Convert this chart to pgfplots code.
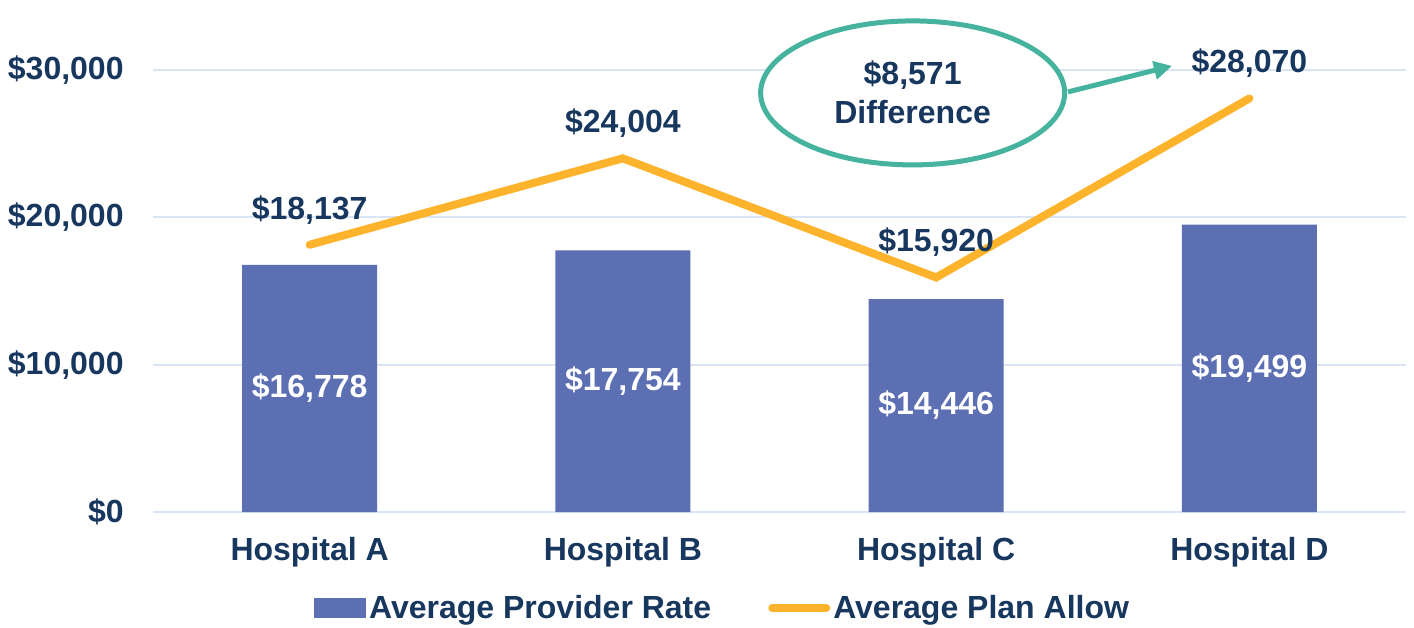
\documentclass[border=0pt]{standalone}
\usepackage{fontspec}
\setmainfont{Liberation Sans}
\usepackage{pgfplots}
\pgfplotsset{compat=1.18}
\usepackage{pgfplotstable}
\usetikzlibrary{arrows.meta}
\definecolor{barcol}{HTML}{5D6FB3}
\definecolor{linecol}{HTML}{FDB32B}
\definecolor{tealcol}{HTML}{45B39D}
\definecolor{gridcol}{HTML}{D9E5F5}
\definecolor{textcol}{HTML}{17375E}
\newcommand\lbl{\fontsize{16}{19.5}\selectfont\bfseries}
\pgfplotstableread{
x y
0 16778
1 17754
2 14446
3 19499
}\provider
\pgfplotstableread{
x y
0 18137
1 24004
2 15920
3 28070
}\planallow
\begin{document}
\begin{tikzpicture}
\useasboundingbox (-76.5pt,-57.5pt) rectangle (630.5pt,256pt);
\begin{axis}[
  at={(0pt,0pt)}, anchor=south west,
  scale only axis, width=626.5pt, height=221pt,
  xmin=-0.5, xmax=3.5, ymin=0, ymax=30000,
  scaled y ticks=false,
  clip=false,
  axis line style={draw=none},
  major tick length=0pt,
  tick style={draw=none},
  xtick={0,1,2,3},
  xticklabels={Hospital A,Hospital B,Hospital C,Hospital D},
  ytick={0,10000,20000,30000},
  yticklabels={{\$0},{\$10,000},{\$20,000},{\$30,000}},
  ymajorgrids,
  grid style={line width=1pt, gridcol},
  ticklabel style={font=\lbl, text=textcol, inner sep=0pt},
  yticklabel style={anchor=east, xshift=-14.5pt},
  xticklabel style={anchor=north, yshift=-12.5pt},
  /pgf/number format/assume math mode=true,
  /pgf/number format/.cd, fixed, precision=0, 1000 sep={,},
  /pgfplots/.cd,
  legend columns=2,
  legend style={draw=none, fill=none, font=\lbl, text=textcol,
    at={(0.455,-0.217)}, anchor=center,
    nodes={inner sep=1.5pt},
    /tikz/every even column/.append style={column sep=27pt}},
  legend cell align=left,
]
\addplot[ybar, bar shift=0pt, bar width=67.5pt, fill=barcol, draw=none,
  legend image code/.code={\fill[barcol] (0pt,-5pt) rectangle (26pt,5pt);}]
  table[x=x,y=y] {\provider};
\addlegendentry{Average Provider Rate}
\addplot[draw=none, mark=none, forget plot,
  nodes near coords={\$\pgfmathprintnumber{\pgfplotspointmeta}},
  point meta=explicit,
  every node near coord/.append style={anchor=center, text=white, font=\lbl}]
  table[x=x, y expr=\thisrow{y}/2, meta=y] {\provider};
\addplot[linecol, line width=4pt, line cap=round, mark=none,
  nodes near coords={\$\pgfmathprintnumber{\pgfplotspointmeta}},
  point meta=explicit,
  every node near coord/.append style={anchor=center, yshift=17.5pt, text=textcol, font=\lbl},
  legend image code/.code={\draw[linecol, line width=4pt, line cap=round] (0pt,0pt) -- (27pt,0pt);}]
  table[x=x, y=y, meta=y] {\planallow};
\addlegendentry{Average Plan Allow}
\draw[tealcol, line width=2.5pt, fill=white] (axis cs:1.925,28445) ellipse [x radius=76pt, y radius=36pt];
\node[align=center, font=\lbl, text=textcol] at (axis cs:1.925,28480) {\$8,571\\Difference};
\draw[-{Triangle[length=9pt,width=9pt]}, tealcol, line width=2.5pt] (axis cs:2.421,28513) -- (axis cs:2.753,30278);
\end{axis}
\end{tikzpicture}
\end{document}
